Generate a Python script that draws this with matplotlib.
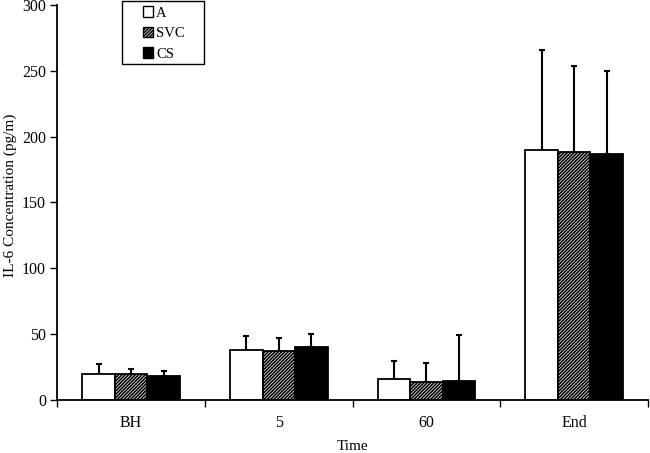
import numpy as np
import matplotlib
matplotlib.use("Agg")
import matplotlib.pyplot as plt
from matplotlib.patches import Patch, Rectangle

# values
times = ["BH", "5", "60", "End"]
series = ["A", "SVC", "CS"]
a_vals = [19.2, 37.8, 15.4, 189.5]
svc_vals = [19.2, 37.0, 13.3, 188.4]
cs_vals = [18.1, 40.3, 14.0, 186.9]
a_err = [7.6, 10.6, 14.2, 76.2]
svc_err = [3.8, 9.6, 14.5, 64.9]
cs_err = [3.7, 9.4, 34.9, 62.6]

plt.rcParams["font.family"] = ["Liberation Serif", "DejaVu Serif"]
plt.rcParams["hatch.linewidth"] = 1.1
plt.rcParams["hatch.color"] = "#222222"
plt.rcParams["font.size"] = 11

fig = plt.figure(figsize=(6.5, 4.53), dpi=100)
ax = fig.add_axes([0.088, 0.118, 0.909, 0.871])

x = np.arange(len(times))
w = 0.22
styles = [
    dict(facecolor="white", hatch=None),
    dict(facecolor="#dddddd", hatch="//////////"),
    dict(facecolor="black", hatch=None),
]
vals = [a_vals, svc_vals, cs_vals]
errs = [a_err, svc_err, cs_err]

for i, (v, e, st) in enumerate(zip(vals, errs, styles)):
    pos = x + (i - 1) * w
    ax.bar(pos, v, width=w, edgecolor="black", linewidth=1.3, zorder=2, **st)
    ax.errorbar(pos, v, yerr=[np.zeros(len(v)), e], fmt="none", ecolor="black",
                elinewidth=1.5, capsize=2.5, capthick=1.5, zorder=1)

ax.set_xlim(-0.5, 3.5)
ax.set_ylim(0, 300)
ax.set_yticks(range(0, 301, 50))
ax.set_xticks(x)
ax.set_xticklabels(times)
ax.set_xticks(np.arange(-0.5, 4.0, 1.0), minor=True)
ax.tick_params(axis="x", which="major", length=0, pad=11, labelsize=11.5)
ax.tick_params(axis="x", which="minor", length=5, width=1, direction="out")
ax.tick_params(axis="y", length=5, width=1, direction="out", pad=3, labelsize=11.5)

for s in ["top", "right"]:
    ax.spines[s].set_visible(False)
for s in ["left", "bottom"]:
    ax.spines[s].set_linewidth(1.3)

# axis titles placed in figure pixels, as in the reference
fig.text(352.5 / 650, 1 - 446 / 453, "Time", ha="center", va="center", fontsize=11)
fig.text(10 / 650, 1 - 195 / 453, "IL-6 Concentration (pg/m)", rotation=90,
         ha="center", va="center", fontsize=11)

# legend: wide box drawn by hand, entries without frame inside it
box = Rectangle((121.7 / 650, 1 - 64 / 453), (204 - 121.7) / 650, (64 - 1.3) / 453,
                transform=fig.transFigure, facecolor="white", edgecolor="black",
                linewidth=1.0, zorder=5, clip_on=False)
ax.add_artist(box)

handles = [Patch(edgecolor="black", linewidth=1.0, **st) for st in styles]
leg = ax.legend(handles, series, loc="upper left", bbox_to_anchor=(143 / 650, 1 - 6.5 / 453),
                bbox_transform=fig.transFigure, frameon=False,
                handlelength=0.7, handleheight=0.7,
                handletextpad=0.2, borderpad=0, labelspacing=0.5,
                borderaxespad=0, fontsize=10.5)
leg.set_zorder(6)

fig.savefig("out.png", dpi=100)
